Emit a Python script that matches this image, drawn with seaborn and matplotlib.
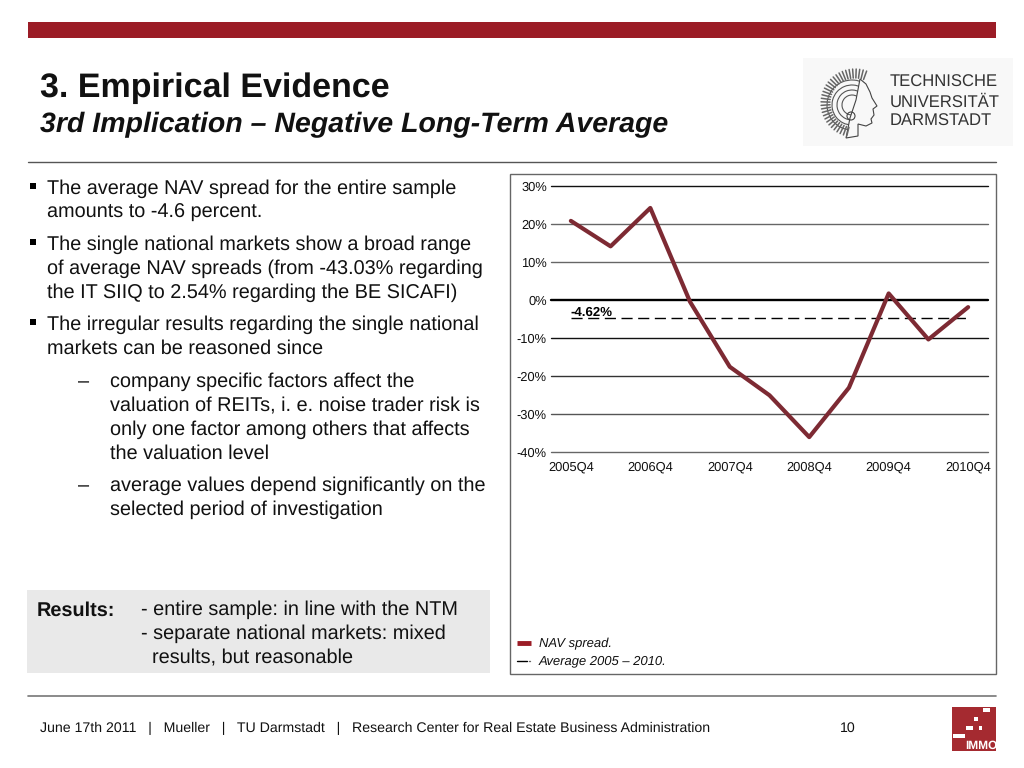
import matplotlib
matplotlib.use('Agg')
import matplotlib.pyplot as plt
from matplotlib.patches import Rectangle, Polygon, Arc, Circle
import numpy as np
import pandas as pd
import seaborn as sns

# values
quarters = ['2005Q4', '2006Q2', '2006Q4', '2007Q2', '2007Q4', '2008Q2',
            '2008Q4', '2009Q2', '2009Q4', '2010Q2', '2010Q4']
nav_spread = [20.9, 14.2, 24.3, -0.4, -17.5, -25.0, -36.0, -23.0, 1.8, -10.3, -1.8]
average = [-4.62, -4.62, -4.62, -4.62, -4.62, -4.62, -4.62, -4.62, -4.62, -4.62, -4.62]
y_ticks = [30, 20, 10, 0, -10, -20, -30, -40]
grid_colors = ['#111111', '#666666', '#666666', '#000000', '#111111', '#333333', '#555555', '#666666']

bullets = [
    (189, 'The average NAV spread for the entire sample', True),
    (213, 'amounts to -4.6 percent.', False),
    (245, 'The single national markets show a broad range', True),
    (269, 'of average NAV spreads (from -43.03% regarding', False),
    (293, 'the IT SIIQ to 2.54% regarding the BE SICAFI)', False),
    (325, 'The irregular results regarding the single national', True),
    (349, 'markets can be reasoned since', False),
]
sub_bullets = [
    (382, 'company specific factors affect the', True),
    (406, 'valuation of REITs, i. e. noise trader risk is', False),
    (430, 'only one factor among others that affects', False),
    (454, 'the valuation level', False),
    (486, 'average values depend significantly on the', True),
    (510, 'selected period of investigation', False),
]
results = ['- entire sample: in line with the NTM',
           '- separate national markets: mixed',
           '  results, but reasonable']
footer = 'June 17th 2011   |   Mueller   |   TU Darmstadt   |   Research Center for Real Estate Business Administration'

W, H = 1024, 768
RED = '#9b1c26'
LINE = '#7d2a33'
BODY = 14.27

sns.set_theme(style='white')
plt.rcParams['font.family'] = ['Liberation Sans', 'DejaVu Sans']
plt.rcParams['text.hinting'] = 'none'

fig = plt.figure(figsize=(W / 100, H / 100), dpi=100, facecolor='white')

# slide layer in pixel coordinates
bg = fig.add_axes([0, 0, 1, 1])
bg.set_xlim(0, W)
bg.set_ylim(H, 0)
bg.axis('off')

bg.add_patch(Rectangle((28, 22), 968, 16, color=RED, lw=0))
bg.plot([28, 996], [162, 162], color='#555555', lw=1)
bg.plot([28, 996], [696, 696], color='#777777', lw=1.2)

bg.text(40, 88, '3. Empirical Evidence', fontsize=24.5, fontweight='bold',
        va='center', color='#111111')
bg.text(40, 125, '3rd Implication \u2013 Negative Long-Term Average', fontsize=20.5,
        fontweight='bold', style='italic', va='center', color='#111111')

# TU logo: a rough line drawing of the Athena head
bg.add_patch(Rectangle((803, 58), 210, 88, color='#f8f8f8', lw=0))
cx, cy = 855, 103
for ang in np.radians(np.arange(70, 262, 6)):
    bg.plot([cx + 25 * np.cos(ang), cx + 34 * np.cos(ang)],
            [cy - 25 * np.sin(ang), cy - 34 * np.sin(ang)], color='#666666', lw=1.1)
for d in [50, 40, 30, 20]:
    bg.add_patch(Arc((cx - 3, cy + 2), d, d, theta1=90, theta2=300, color='#555555', lw=0.8))
bg.add_patch(Polygon([(860, 79), (866, 84), (870, 92), (872, 98), (877, 106), (873, 109),
                      (874, 115), (871, 119), (872, 123), (866, 126), (858, 124),
                      (858, 136), (846, 138), (850, 118), (856, 100)],
                     facecolor='#f8f8f8', edgecolor='#444444', lw=0.8))
bg.add_patch(Circle((851, 116), 4, fill=False, edgecolor='#444444', lw=0.8))
for y, word in zip([82, 102, 121], ['TECHNISCHE', 'UNIVERSIT\u00c4T', 'DARMSTADT']):
    bg.text(890, y, word, fontsize=12, va='center', color='#333333')

# body text
for y, line, has_mark in bullets:
    if has_mark:
        bg.plot([33], [y - 3], marker='s', ms=4.2, color='black', mew=0)
    bg.text(47, y, line, fontsize=BODY, va='center', color='#111111')
for y, line, has_mark in sub_bullets:
    if has_mark:
        bg.text(78, y, '\u2013', fontsize=BODY, va='center', color='#111111')
    bg.text(110, y, line, fontsize=BODY, va='center', color='#111111')

# results box
bg.add_patch(Rectangle((27, 590), 463, 83, color='#e9e9e9', lw=0))
bg.text(37, 611, 'Results:', fontsize=BODY, fontweight='bold', va='center', color='#111111')
for y, line in zip([610, 634, 658], results):
    bg.text(141, y, line, fontsize=BODY, va='center', color='#111111')

# chart frame and hand-made legend
bg.add_patch(Rectangle((510, 174), 486, 500, facecolor='white', edgecolor='#666666', lw=1))
bg.plot([517, 531], [643, 643], color=RED, lw=3.5, solid_capstyle='butt')
bg.plot([517, 527], [661, 661], color='black', lw=1)
bg.plot([529, 530], [661, 661], color='#666666', lw=1)
bg.text(539, 644, 'NAV spread.', fontsize=9.4, style='italic', va='center', color='#111111')
bg.text(539, 661, 'Average 2005 \u2013 2010.', fontsize=9.4, style='italic', va='center', color='#111111')

# footer
bg.text(40, 728, footer, fontsize=10.2, va='center', color='#111111')
bg.text(840, 728, '10', fontsize=10.2, va='center', color='#111111')

# IMMO logo
bg.add_patch(Rectangle((952, 707), 44, 44, color='#a52a30', lw=0))
for sx, sy, sw in [(983, 708, 7), (974, 717, 4), (966, 726, 7), (979, 726, 3), (953, 734, 12)]:
    bg.add_patch(Rectangle((sx, sy), sw, 4, color='white', lw=0))
bg.text(965, 746, 'IMMO', fontsize=8.6, fontweight='bold', va='center', color='white',
        clip_on=True, clip_path=Rectangle((952, 707), 44, 44, transform=bg.transData))

# chart, placed at its pixel rectangle
left, right, top, bottom = 551, 988, 186.3, 452.3
ax = fig.add_axes([left / W, 1 - bottom / H, (right - left) / W, (bottom - top) / H])
ax.patch.set_alpha(0)

df = pd.DataFrame({'quarter': quarters, 'nav_spread': nav_spread, 'average': average})

for tick, col in zip(y_ticks, grid_colors):
    ax.axhline(tick, color=col, lw=1.7 if tick == 0 else 1, zorder=1, clip_on=False)

sns.lineplot(data=df, x='quarter', y='average', ax=ax, color='black', lw=1,
             linestyle=(0, (8, 4)), sort=False, zorder=2)
sns.lineplot(data=df, x='quarter', y='nav_spread', ax=ax, color=LINE, lw=3,
             sort=False, zorder=3)

ax.text(0, average[0] - 0.1, '-4.62%', fontsize=9.5, fontweight='bold', ha='left',
        va='bottom', color='black', zorder=4)

ax.set_xlim(-0.5, 10.5)
ax.set_ylim(-40, 30)
ax.set_xticks(range(0, len(quarters), 2))
ax.set_xticklabels(quarters[::2], fontsize=9.3, color='#111111')
ax.set_yticks(y_ticks)
ax.set_yticklabels([f'{t}%' for t in y_ticks], fontsize=9.3, color='#111111')
ax.set_xlabel('')
ax.set_ylabel('')
ax.tick_params(axis='x', length=0, pad=6)
ax.tick_params(axis='y', length=0, pad=3)
sns.despine(ax=ax, left=True, bottom=True)

fig.savefig('out.png', dpi=100)
